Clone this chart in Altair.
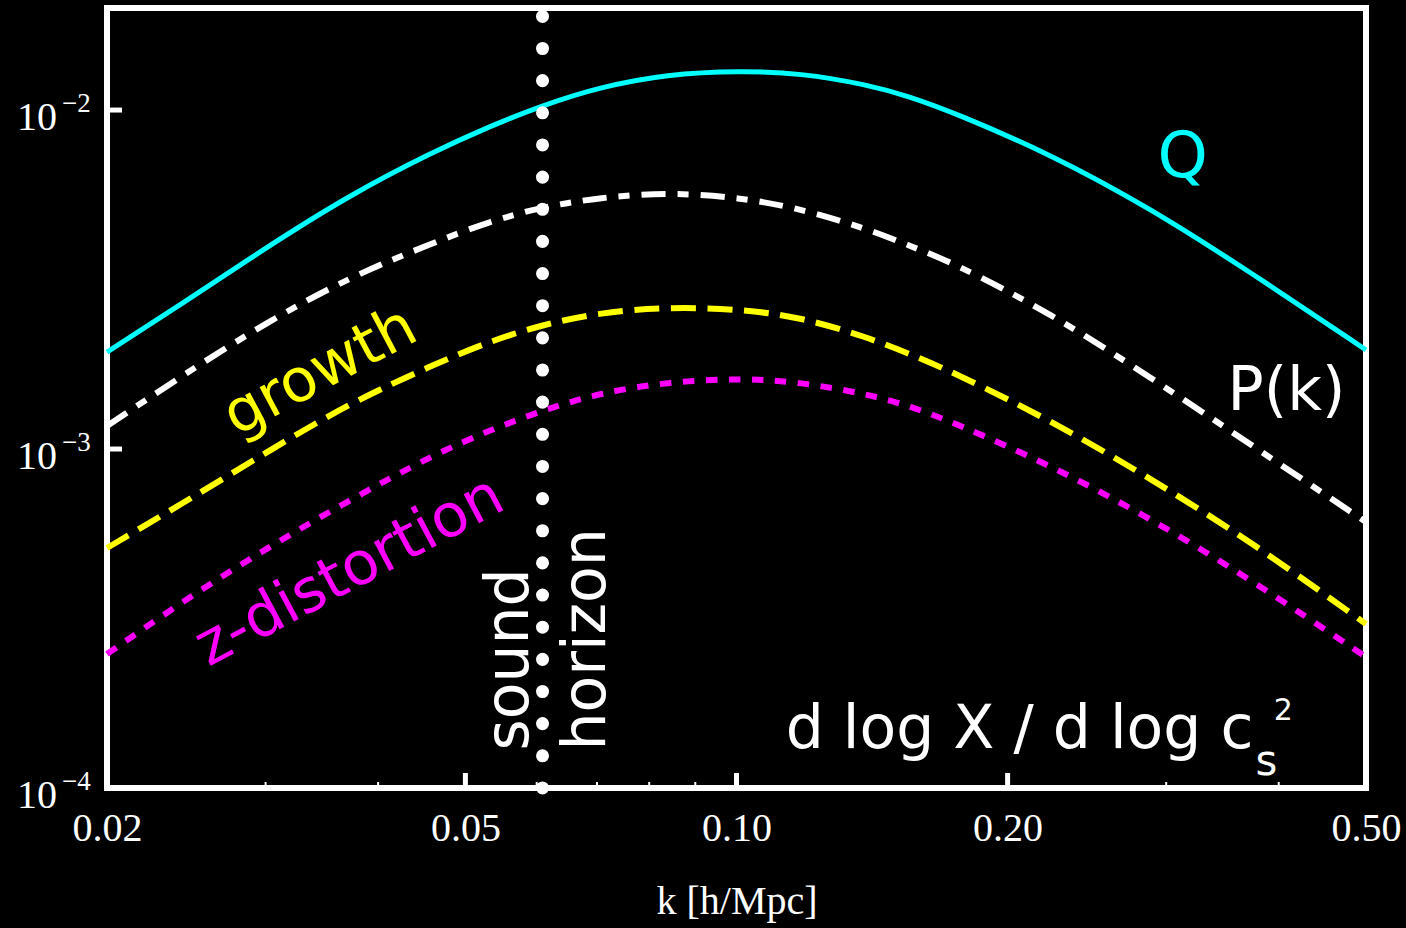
import altair as alt
import pandas as pd

# Wavenumbers k [h/Mpc] at which the logarithmic derivatives are tabulated
k_values = [0.02, 0.0243, 0.0301, 0.0372, 0.0460, 0.0533, 0.0610, 0.0705, 0.0837,
            0.1009, 0.1177, 0.1396, 0.1558, 0.1748, 0.2230, 0.2878, 0.3717, 0.5]

# d log X / d log c_s^2 for each observable X
q_values = [1.932e-3, 2.696e-3, 3.944e-3, 5.615e-3, 7.52e-3, 8.97e-3, 1.034e-2, 1.169e-2,
            1.277e-2, 1.306e-2, 1.285e-2, 1.189e-2, 1.096e-2, 9.80e-3, 7.42e-3, 5.14e-3,
            3.33e-3, 1.96e-3]
pk_values = [1.169e-3, 1.654e-3, 2.369e-3, 3.217e-3, 4.053e-3, 4.707e-3, 5.184e-3, 5.52e-3,
             5.72e-3, 5.52e-3, 5.121e-3, 4.468e-3, 3.975e-3, 3.525e-3, 2.519e-3, 1.632e-3,
             1.034e-3, 6.09e-4]
growth_values = [5.105e-4, 6.929e-4, 9.80e-4, 1.367e-3, 1.769e-3, 2.083e-3, 2.33e-3, 2.527e-3,
                 2.623e-3, 2.588e-3, 2.451e-3, 2.14e-3, 1.906e-3, 1.676e-3, 1.217e-3, 8.21e-4,
                 5.355e-4, 3.047e-4]
zdist_values = [2.484e-4, 3.561e-4, 5.105e-4, 7.072e-4, 9.60e-4, 1.138e-3, 1.303e-3, 1.463e-3,
                1.576e-3, 1.619e-3, 1.576e-3, 1.453e-3, 1.339e-3, 1.193e-3, 8.97e-4, 6.26e-4,
                4.135e-4, 2.434e-4]

# scale of the sound horizon
sound_horizon_k = 0.0609

# axis ticks and labels
x_label_values = [0.02, 0.05, 0.1, 0.2, 0.5]
x_major_ticks = [0.05, 0.1, 0.2]
x_minor_ticks = [0.03, 0.04, 0.06, 0.07, 0.08, 0.09, 0.3, 0.4]
y_major_ticks = [1e-3, 1e-2]
y_label_values = [1e-4, 1e-3, 1e-2]
y_label_mantissa = ["10", "10", "10"]
y_label_exponents = ["\u22124", "\u22123", "\u22122"]

W, H = 1259, 780
SERIF = "Liberation Serif"
HAND = "Comic Sans MS, DejaVu Sans"

xscale = alt.Scale(type="log", domain=[0.02, 0.5], nice=False)
yscale = alt.Scale(type="log", domain=[1e-4, 0.02], nice=False)

x_axis = alt.Axis(
    values=x_label_values, format=".2f", ticks=False, tickSize=0, domain=False, grid=False,
    labelFont=SERIF, labelFontSize=40, labelColor="white", labelBaseline="alphabetic",
    labelPadding=52, labelFlush=False, labelOverlap=False,
    title="k [h/Mpc]", titleFont=SERIF, titleFontSize=40, titleFontWeight="normal",
    titleColor="white", titleBaseline="alphabetic", titleY=125,
)


def xk(field="k"):
    return alt.X(f"{field}:Q", scale=xscale, axis=x_axis)


def yv(field="v"):
    return alt.Y(f"{field}:Q", scale=yscale, axis=None)


curves = pd.DataFrame({
    "k": k_values, "Q": q_values, "Pk": pk_values,
    "growth": growth_values, "zdist": zdist_values,
})
base = alt.Chart(curves)
SMOOTH = "basis"

q_line = base.mark_line(color="#00FFFF", strokeWidth=5, interpolate=SMOOTH).encode(
    x=xk(), y=yv("Q"))
pk_line = base.mark_line(color="white", strokeWidth=6, interpolate=SMOOTH,
                         strokeDash=[24, 12, 11, 12]).encode(x=xk(), y=yv("Pk"))
growth_line = base.mark_line(color="#FFFF00", strokeWidth=6, interpolate=SMOOTH,
                             strokeDash=[25, 11.5]).encode(x=xk(), y=yv("growth"))
zdist_line = base.mark_line(color="#FF00FF", strokeWidth=6, interpolate=SMOOTH,
                            strokeDash=[11.5, 11.5]).encode(x=xk(), y=yv("zdist"))

# dotted vertical line at the sound horizon, drawn from the bottom up
horizon_rule = alt.Chart(pd.DataFrame({"k": [sound_horizon_k]})).mark_rule(
    color="white", strokeWidth=13, strokeCap="round", strokeDash=[0.1, 32.05]
).encode(
    x=xk(),
    y=alt.YDatum(1e-4, scale=yscale, axis=None),
    y2=alt.Y2Datum(0.02),
)

# inward-pointing ticks on the frame
x_major = alt.Chart(pd.DataFrame({"k": x_major_ticks})).mark_tick(
    color="white", opacity=1, orient="vertical", size=15, thickness=5, yOffset=-7.5
).encode(x=xk(), y=alt.YDatum(1e-4, scale=yscale, axis=None))
x_minor = alt.Chart(pd.DataFrame({"k": x_minor_ticks})).mark_tick(
    color="white", opacity=1, orient="vertical", size=6, thickness=2, yOffset=-3
).encode(x=xk(), y=alt.YDatum(1e-4, scale=yscale, axis=None))
y_major = alt.Chart(pd.DataFrame({"v": y_major_ticks})).mark_tick(
    color="white", opacity=1, orient="horizontal", size=15, thickness=5, xOffset=7.5
).encode(x=alt.XDatum(0.02, scale=xscale, axis=x_axis), y=yv())

# y tick labels written as 10 with a raised exponent
ylab = alt.Chart(pd.DataFrame({"v": y_label_values, "m": y_label_mantissa,
                               "e": y_label_exponents}))
y_mant = ylab.mark_text(color="white", font=SERIF, fontSize=40, align="right",
                        baseline="alphabetic", dx=-50, dy=20).encode(
    x=alt.value(0), y=yv(), text="m:N")
y_expo = ylab.mark_text(color="white", font=SERIF, fontSize=27, align="left",
                        baseline="alphabetic", dx=-45, dy=2).encode(
    x=alt.value(0), y=yv(), text="e:N")


def label(text, k, v, color, size=60, angle=0, align="center", baseline="alphabetic"):
    df = pd.DataFrame({"k": [k], "v": [v], "t": [text]})
    return alt.Chart(df).mark_text(
        color=color, font=HAND, fontSize=size, angle=angle, align=align, baseline=baseline
    ).encode(x=xk(), y=yv(), text="t:N")


labels = [
    label("Q", 0.313, 6.35e-3, "#00FFFF", size=64),
    label("P(k)", 0.408, 1.30e-3, "white"),
    label("growth", 0.0345, 1.69e-3, "#FFFF00", angle=332, baseline="middle"),
    label("z-distortion", 0.0372, 4.35e-4, "#FF00FF", angle=332, baseline="middle"),
    label("sound", 0.0587, 1.29e-4, "white", angle=270, align="left"),
    label("horizon", 0.0715, 1.29e-4, "white", angle=270, align="left"),
    label("d log X / d log c", 0.375, 1.312e-4, "white", align="right"),
    label("s", 0.377, 1.092e-4, "white", size=42, align="left"),
    label("2", 0.395, 1.59e-4, "white", size=30, align="left"),
]

chart = alt.layer(
    q_line, pk_line, growth_line, zdist_line, horizon_rule,
    x_major, x_minor, y_major, y_mant, y_expo, *labels
).properties(
    width=W, height=H, background="black",
    padding={"left": 107, "top": 8, "right": 40, "bottom": 140},
    autosize=alt.AutoSizeParams(type="none"),
).configure_view(stroke="white", strokeWidth=6, fill="black")

chart.save("out.html", embed_options={"renderer": "svg", "actions": False})
